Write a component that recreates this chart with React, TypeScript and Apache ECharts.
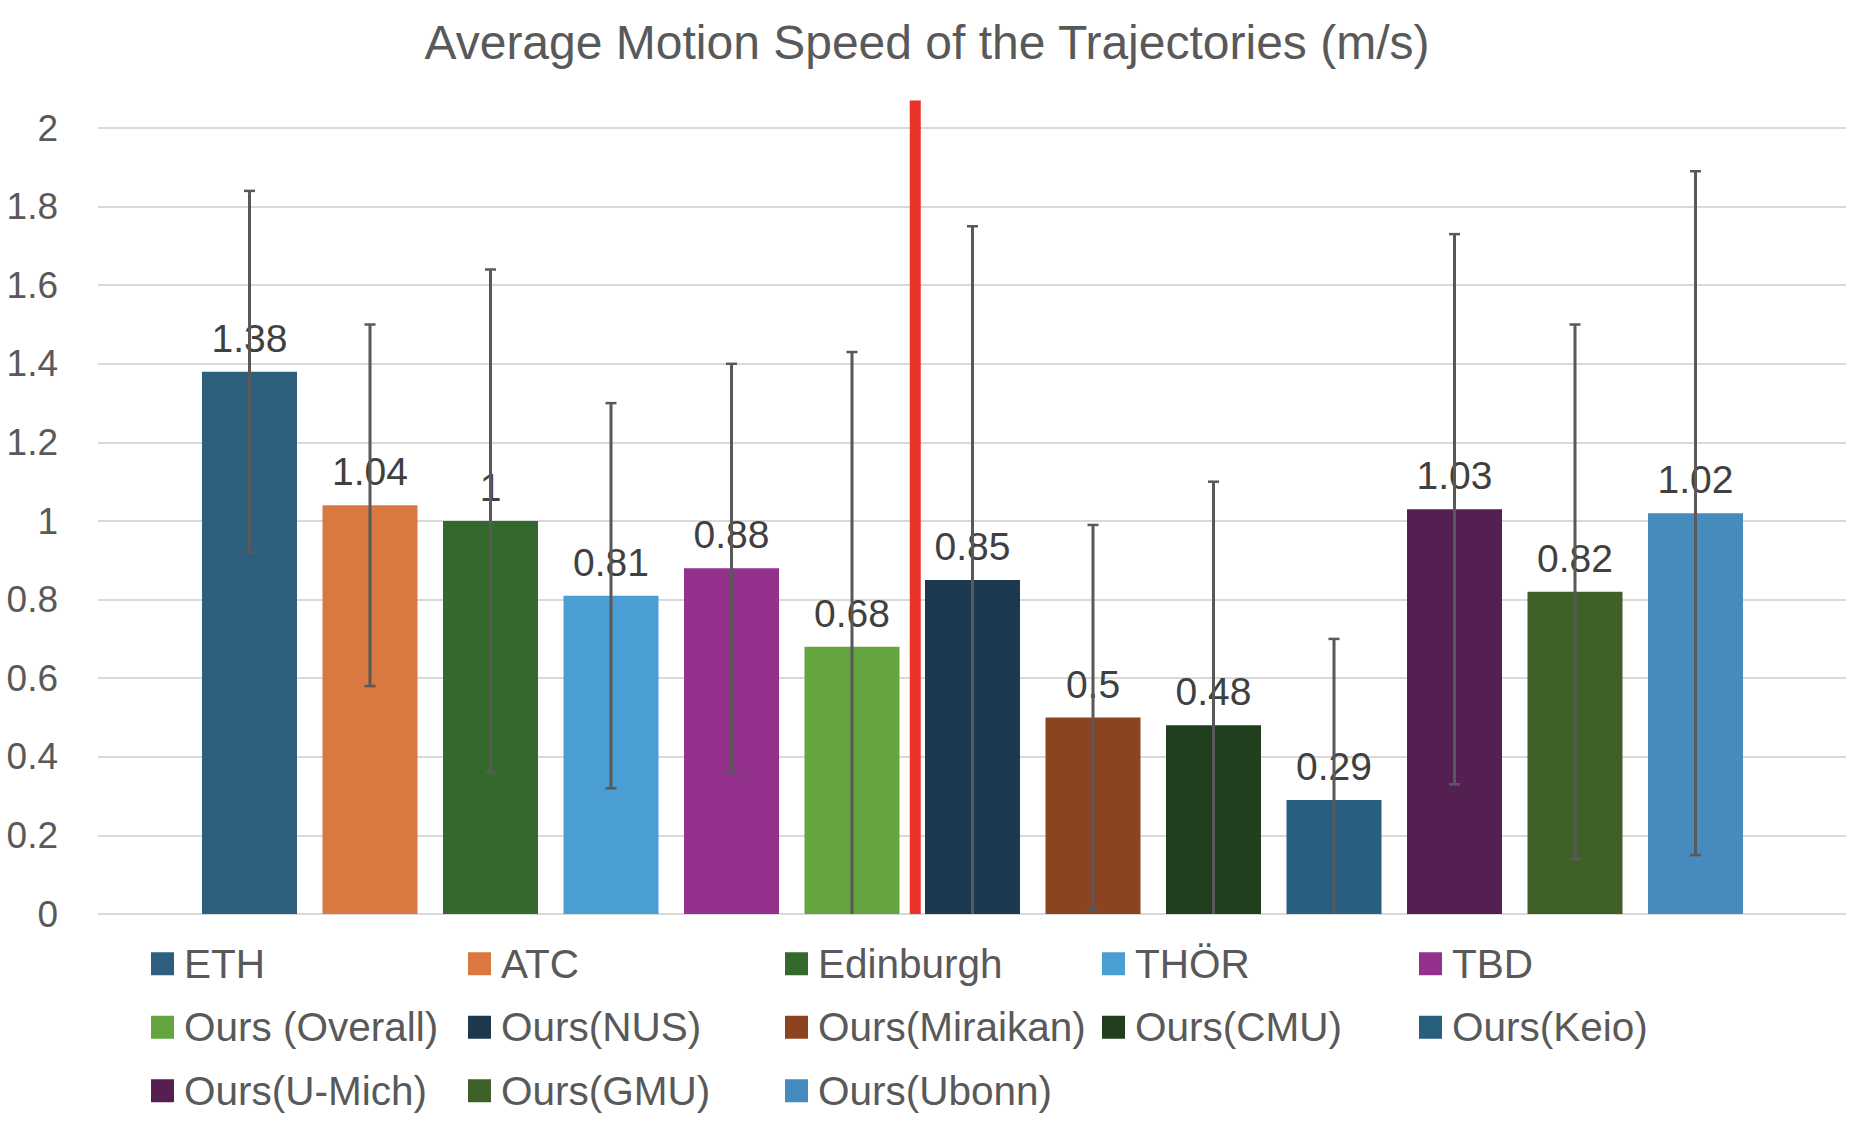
import React, { useEffect, useRef } from "react";
import * as echarts from "echarts";

const TITLE = "Average Motion Speed of the Trajectories (m/s)";
const CATEGORIES = [
  "ETH",
  "ATC",
  "Edinburgh",
  "THÖR",
  "TBD",
  "Ours (Overall)",
  "Ours(NUS)",
  "Ours(Miraikan)",
  "Ours(CMU)",
  "Ours(Keio)",
  "Ours(U-Mich)",
  "Ours(GMU)",
  "Ours(Ubonn)",
];
const MEANS = [1.38, 1.04, 1.0, 0.81, 0.88, 0.68, 0.85, 0.5, 0.48, 0.29, 1.03, 0.82, 1.02];
// symmetric error (std) read from the upper whisker ends
const ERRORS = [0.46, 0.46, 0.64, 0.49, 0.52, 0.75, 0.9, 0.49, 0.62, 0.41, 0.7, 0.68, 0.87];
const COLORS = [
  "#2E5F7F",
  "#D97841",
  "#33692D",
  "#4A9ED4",
  "#93318D",
  "#65A540",
  "#1C394F",
  "#8C4320",
  "#213F1E",
  "#285E7E",
  "#561F51",
  "#3F6128",
  "#458BBE",
];
const Y_MIN = 0;
const Y_MAX = 2;
const Y_INTERVAL = 0.2;
// red divider between the reference datasets and ours (in category units)
const DIVIDER_POS = 5.525;
const DIVIDER_TOP = 2.07;

const FONT = "'Liberation Sans', Arial, sans-serif";

export default function App() {
  const ref = useRef<HTMLDivElement>(null);

  useEffect(() => {
    if (!ref.current) return;
    const chart = echarts.init(ref.current, undefined, { renderer: "svg" });

    const barSeries = CATEGORIES.map((name, i) => ({
      name,
      type: "bar",
      xAxisIndex: 1,
      yAxisIndex: 1,
      barWidth: 95,
      barGap: "-100%",
      itemStyle: { color: COLORS[i] },
      label: {
        show: true,
        position: "top",
        distance: 14,
        color: "#404040",
        fontSize: 39,
        fontFamily: FONT,
        formatter: (p: any) => String(p.value),
      },
      data: MEANS.map((v, j) => (j === i ? v : "-")),
      z: 2,
    }));

    const errorSeries = {
      type: "custom",
      xAxisIndex: 1,
      yAxisIndex: 1,
      z: 4,
      silent: true,
      data: MEANS.map((v, i) => [i, v, ERRORS[i]]),
      renderItem: (params: any, api: any) => {
        const idx = api.value(0);
        const mean = api.value(1);
        const err = api.value(2);
        const hi = mean + err;
        let lo = mean - err;
        const clipped = lo < Y_MIN;
        if (clipped) lo = Y_MIN;
        const pHi = api.coord([idx, hi]);
        const pLo = api.coord([idx, lo]);
        const cap = 5.5;
        const style = { stroke: "#595959", lineWidth: 3 };
        const children: any[] = [
          { type: "line", shape: { x1: pHi[0], y1: pHi[1], x2: pLo[0], y2: pLo[1] }, style },
          {
            type: "line",
            shape: { x1: pHi[0] - cap, y1: pHi[1], x2: pHi[0] + cap, y2: pHi[1] },
            style: { stroke: "#595959", lineWidth: 2.5 },
          },
        ];
        if (!clipped) {
          children.push({
            type: "line",
            shape: { x1: pLo[0] - cap, y1: pLo[1], x2: pLo[0] + cap, y2: pLo[1] },
            style: { stroke: "#595959", lineWidth: 2.5 },
          });
        }
        return { type: "group", children };
      },
    };

    const dividerSeries = {
      type: "custom",
      xAxisIndex: 2,
      yAxisIndex: 1,
      z: 5,
      silent: true,
      clip: false,
      data: [[DIVIDER_POS, Y_MIN, DIVIDER_TOP]],
      renderItem: (params: any, api: any) => {
        const p0 = api.coord([api.value(0), api.value(1)]);
        const p1 = api.coord([api.value(0), api.value(2)]);
        return {
          type: "line",
          shape: { x1: p0[0], y1: p0[1], x2: p1[0], y2: p1[1] },
          style: { stroke: "#E9332A", lineWidth: 11, lineCap: "butt" },
        };
      },
    };

    chart.setOption({
      animation: false,
      backgroundColor: "#ffffff",
      title: {
        text: TITLE,
        left: "center",
        top: 18,
        padding: 0,
        textStyle: {
          color: "#595959",
          fontSize: 48,
          fontWeight: "normal",
          fontFamily: FONT,
        },
      },
      legend: {
        data: CATEGORIES,
        left: 151,
        top: 932,
        width: 1620,
        padding: 0,
        orient: "horizontal",
        itemGap: 0,
        itemWidth: 23,
        itemHeight: 23,
        icon: "rect",
        selectedMode: false,
        textStyle: {
          color: "#595959",
          fontSize: 40.5,
          fontFamily: FONT,
          lineHeight: 63.5,
          width: 284,
          padding: [0, 0, 0, 5],
        },
      },
      grid: [
        { left: 98, right: 8, top: 128, bottom: 212 },
        { left: 189.25, right: 98.25, top: 128, bottom: 212 },
      ],
      xAxis: [
        { type: "category", gridIndex: 0, data: [""], show: false },
        {
          type: "category",
          gridIndex: 1,
          data: CATEGORIES,
          show: false,
          boundaryGap: true,
        },
        { type: "value", gridIndex: 1, min: -0.5, max: CATEGORIES.length - 0.5, show: false },
      ],
      yAxis: [
        {
          type: "value",
          gridIndex: 0,
          min: Y_MIN,
          max: Y_MAX,
          interval: Y_INTERVAL,
          axisLine: { show: false },
          axisTick: { show: false },
          splitLine: { show: true, lineStyle: { color: "#D9D9D9", width: 2 } },
          axisLabel: {
            color: "#595959",
            fontSize: 37,
            fontFamily: FONT,
            margin: 40,
          },
        },
        {
          type: "value",
          gridIndex: 1,
          min: Y_MIN,
          max: Y_MAX,
          interval: Y_INTERVAL,
          show: false,
          splitLine: { show: false },
        },
      ],
      series: [...barSeries, errorSeries, dividerSeries],
    });

    return () => chart.dispose();
  }, []);

  return (
    <div
      ref={ref}
      style={{ position: "fixed", left: 0, top: 0, width: 1854, height: 1126, background: "#fff" }}
    />
  );
}
